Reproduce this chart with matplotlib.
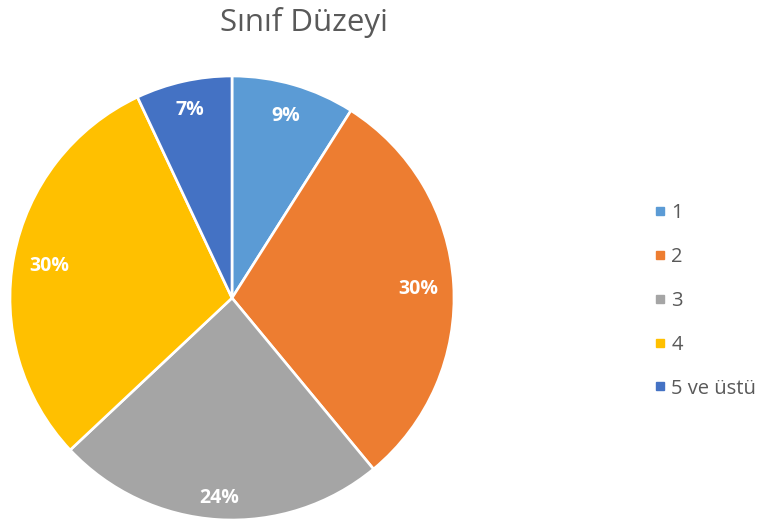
import matplotlib
matplotlib.use("Agg")
import matplotlib.pyplot as plt
from matplotlib.lines import Line2D
import numpy as np

categories = ["1", "2", "3", "4", "5 ve üstü"]
values = [9, 30, 24, 30, 7]
colors = ["#5B9BD5", "#ED7D31", "#A5A5A5", "#FFC000", "#4472C4"]
title = "Sınıf Düzeyi"
label_dist = [0.87, 0.84, 0.89, 0.84, 0.88]

plt.rcParams['font.family'] = ['Open Sans', 'DejaVu Sans']

W, H = 764, 523
fig = plt.figure(figsize=(W / 100, H / 100), dpi=100)
cx, cy, r = 232, 298, 222
ax = fig.add_axes([(cx - r) / W, (H - cy - r) / H, 2 * r / W, 2 * r / H])

wedges, _ = ax.pie(values, colors=colors, startangle=90, counterclock=False,
                   radius=1.0,
                   wedgeprops=dict(edgecolor="white", linewidth=1.9))
ax.set_xlim(-1, 1)
ax.set_ylim(-1, 1)
ax.set_aspect("equal")
ax.axis("off")

total = sum(values)
for w, v, d in zip(wedges, values, label_dist):
    ang = np.deg2rad((w.theta1 + w.theta2) / 2)
    ax.text(d * np.cos(ang), d * np.sin(ang) - 0.014,
            f"{round(100 * v / total)}%",
            ha="center", va="center", color="white", fontsize=14,
            fontweight="bold")

fig.text(304 / W, 1 - 22 / H, title, ha="center", va="center",
         fontsize=22.5, color="#595959")

handles = [Line2D([], [], marker="s", linestyle="none", markersize=6,
                  markerfacecolor=c, markeredgecolor=c) for c in colors]
fig.legend(handles, categories, loc="center left",
           bbox_to_anchor=(645 / W, 1 - 301 / H), frameon=False,
           fontsize=14.5, labelcolor="#595959", handlelength=0.45,
           handletextpad=0.35, labelspacing=1.18, borderpad=0)

fig.savefig("out.png", dpi=100)
